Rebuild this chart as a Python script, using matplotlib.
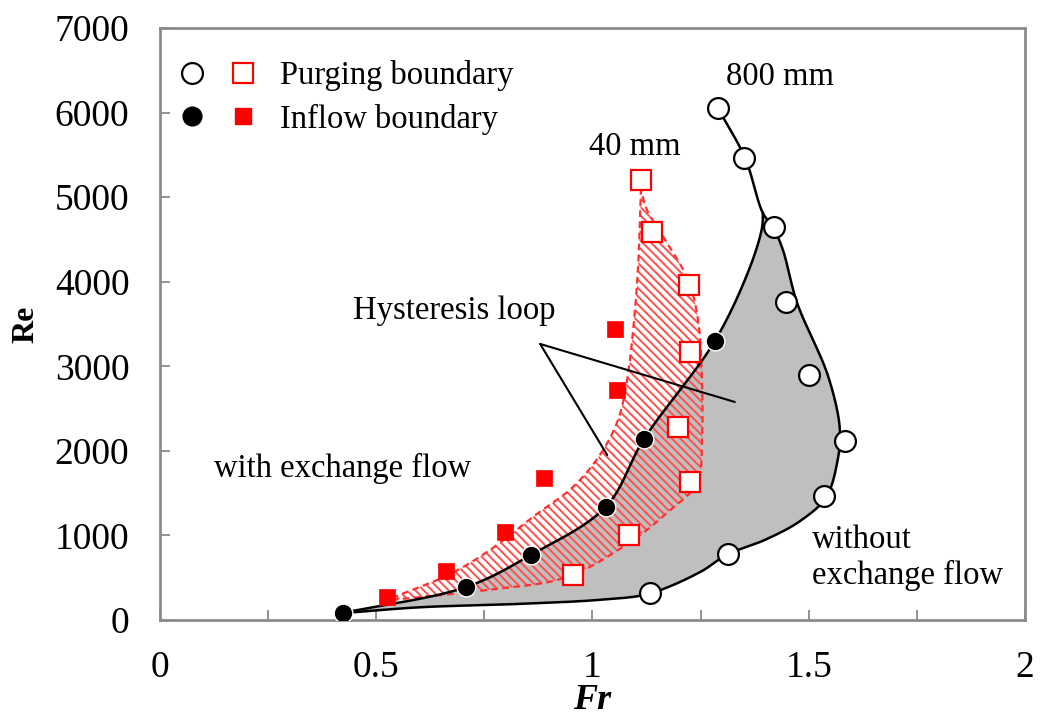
'''
Re-Fr map of the purging / inflow boundaries for two tube lengths.
'''

import numpy as np
import matplotlib.pyplot as plt
from matplotlib.lines import Line2D
from matplotlib.legend_handler import HandlerTuple

# measured points, 800 mm tube
purge800_fr = [1.29, 1.35, 1.42, 1.447, 1.50, 1.584, 1.535, 1.313, 1.133]
purge800_re = [6055, 5465, 4650, 3760, 2900, 2120, 1470, 780, 320]
inflow800_fr = [0.423, 0.708, 0.858, 1.031, 1.119, 1.283]
inflow800_re = [85, 390, 770, 1340, 2140, 3300]

# measured points, 40 mm tube
purge40_fr = [1.112, 1.138, 1.223, 1.225, 1.198, 1.225, 1.084, 0.955]
purge40_re = [5205, 4590, 3960, 3170, 2280, 1630, 1005, 530]
inflow40_fr = [0.525, 0.661, 0.798, 0.888, 1.057, 1.052]
inflow40_re = [275, 580, 1040, 1680, 2720, 3440]

# hand drawn boundary curves (knots)
bnd800_purge_fr = [0.42, 0.60, 0.83, 1.02, 1.13, 1.25, 1.31, 1.40, 1.48, 1.54,
                   1.566, 1.572, 1.545, 1.473, 1.44, 1.417, 1.394,
                   1.353, 1.29]
bnd800_purge_re = [80, 150, 190, 240, 310, 570, 770, 950, 1170, 1450,
                   1870, 2250, 2880, 3750, 4380, 4650, 4810,
                   5460, 6050]
merge800 = 16  # index where the inflow curve joins the purging curve
bnd800_inflow_fr = [0.42, 0.708, 0.858, 1.031, 1.119, 1.283, 1.364, 1.392, 1.394]
bnd800_inflow_re = [80, 390, 770, 1340, 2140, 3300, 4170, 4640, 4810]

bnd40_left_fr = [0.536, 0.671, 0.763, 0.862, 0.955, 1.017, 1.059, 1.080, 1.094,
                 1.105, 1.112]
bnd40_left_re = [260, 544, 828, 1218, 1573, 1951, 2365, 2838, 3429, 4139, 5085]
bnd40_right_fr = [0.536, 0.756, 0.941, 1.094, 1.172, 1.242, 1.253, 1.253, 1.244,
                  1.221, 1.168, 1.126, 1.112]
bnd40_right_re = [237, 355, 508, 946, 1265, 1620, 2129, 2838, 3548, 4021,
                  4494, 4848, 5085]

xticks = [0, 0.5, 1, 1.5, 2]
xtick_labels = ['0', '0.5', '1', '1.5', '2']
yticks = [0, 1000, 2000, 3000, 4000, 5000, 6000, 7000]

# rough pixel scale of the axes, used only to make the smoothing isotropic
SX, SY = 432.5, 0.08457


def catmull_rom(xs, ys, steps=20):
    '''Smooth line through the knots (centripetal Catmull-Rom).'''
    p = np.column_stack([np.asarray(xs) * SX, np.asarray(ys) * SY]).astype(float)
    p = np.vstack([2*p[0] - p[1], p, 2*p[-1] - p[-2]])
    out = []
    for i in range(1, len(p) - 2):
        p0, p1, p2, p3 = p[i-1], p[i], p[i+1], p[i+2]
        t0 = 0.0
        t1 = t0 + np.linalg.norm(p1 - p0) ** 0.5
        t2 = t1 + np.linalg.norm(p2 - p1) ** 0.5
        t3 = t2 + np.linalg.norm(p3 - p2) ** 0.5
        t = np.linspace(t1, t2, steps, endpoint=False)[:, None]
        a1 = (t1 - t)/(t1 - t0)*p0 + (t - t0)/(t1 - t0)*p1
        a2 = (t2 - t)/(t2 - t1)*p1 + (t - t1)/(t2 - t1)*p2
        a3 = (t3 - t)/(t3 - t2)*p2 + (t - t2)/(t3 - t2)*p3
        b1 = (t2 - t)/(t2 - t0)*a1 + (t - t0)/(t2 - t0)*a2
        b2 = (t3 - t)/(t3 - t1)*a2 + (t - t1)/(t3 - t1)*a3
        out.append((t2 - t)/(t2 - t1)*b1 + (t - t1)/(t2 - t1)*b2)
    out.append(p[-2][None])
    res = np.vstack(out)
    return res[:, 0] / SX, res[:, 1] / SY


plt.rcParams['font.family'] = ['Liberation Serif', 'DejaVu Serif']
plt.rcParams['hatch.linewidth'] = 1.4

fig = plt.figure(figsize=(10.4, 7.22), dpi=100)
ax = fig.add_axes([0.1538, 0.1413, 0.8318, 0.8199])

# 800 mm region
px, py = catmull_rom(bnd800_purge_fr, bnd800_purge_re)
ix, iy = catmull_rom(bnd800_inflow_fr, bnd800_inflow_re)
lx, ly = catmull_rom(bnd800_purge_fr[:merge800+1], bnd800_purge_re[:merge800+1])
ax.fill(np.concatenate([ix, lx[::-1]]), np.concatenate([iy, ly[::-1]]),
        color='#bfbfbf', lw=0, zorder=1)

# 40 mm region
ax_l, ay_l = catmull_rom(bnd40_left_fr, bnd40_left_re)
ax_r, ay_r = catmull_rom(bnd40_right_fr, bnd40_right_re)
ax.fill(np.concatenate([ax_l, ax_r[::-1]]), np.concatenate([ay_l, ay_r[::-1]]),
        facecolor='none', edgecolor='#ff5050', hatch='\\' * 4, lw=0, zorder=2)
ax.plot(ax_l, ay_l, color='#ff3030', lw=1.6, ls=(0, (3, 2)), zorder=3)
ax.plot(ax_r, ay_r, color='#ff3030', lw=1.6, ls=(0, (3, 2)), zorder=3)

ax.plot(px, py, color='k', lw=1.8, zorder=3)
ax.plot(ix, iy, color='k', lw=1.8, zorder=3)

# markers
ax.plot(purge800_fr, purge800_re, 'o', ms=15, mfc='white', mec='k', mew=1.6, zorder=5)
ax.plot(inflow800_fr, inflow800_re, 'o', ms=13.5, mfc='k', mec='white', mew=1.0, zorder=5)
ax.plot(purge40_fr, purge40_re, 's', ms=14, mfc='white', mec='#ff0000', mew=1.6, zorder=5)
ax.plot(inflow40_fr, inflow40_re, 's', ms=11, mfc='#ff0000', mec='#ff0000', mew=0.5, zorder=5)

# annotations
fs = 23.5
ax.text(0.68, 3654, 'Hysteresis loop', fontsize=fs, ha='center', va='center')
for end in [(1.329, 2578), (1.034, 1951)]:
    ax.annotate('', xy=end, xytext=(0.879, 3264),
                arrowprops=dict(arrowstyle='-', color='k', lw=1.5, shrinkA=0, shrinkB=0),
                zorder=4)
ax.text(1.098, 5593, '40 mm', fontsize=fs, ha='center', va='center')
ax.text(1.434, 6421, '800 mm', fontsize=fs, ha='center', va='center')
ax.text(0.423, 1786, 'with exchange flow', fontsize=fs, ha='center', va='center')
ax.text(1.508, 733, 'without\nexchange flow', fontsize=fs, ha='left', va='center',
        linespacing=1.2)

# legend
h_oc = Line2D([], [], ls='', marker='o', ms=15, mfc='white', mec='k', mew=1.6)
h_os = Line2D([], [], ls='', marker='s', ms=14, mfc='white', mec='#ff0000', mew=1.6)
h_fc = Line2D([], [], ls='', marker='o', ms=13.5, mfc='k', mec='k')
h_fs = Line2D([], [], ls='', marker='s', ms=11, mfc='#ff0000', mec='#ff0000')
ax.legend([(h_oc, h_os), (h_fc, h_fs)], ['Purging boundary', 'Inflow boundary'],
          handler_map={tuple: HandlerTuple(ndivide=None, pad=0.9)},
          loc='upper left', bbox_to_anchor=(-0.005, 0.99), frameon=False,
          fontsize=fs, handlelength=2.2, handletextpad=0.8, labelspacing=0.38,
          borderaxespad=0.4)

ax.set_xlim(0, 2)
ax.set_ylim(0, 7000)
ax.set_xticks(xticks)
ax.set_xticklabels(xtick_labels)
ax.set_xticks(np.arange(0.25, 2, 0.5), minor=True)
ax.set_yticks(yticks)
ax.tick_params(which='both', direction='in', length=7, width=1.2, color='#808080',
               labelsize=27, pad=22, top=False, right=False)
for s in ax.spines.values():
    s.set_color('#8c8c8c')
    s.set_linewidth(2)

ax.set_xlabel('Fr', fontsize=26, fontweight='bold', fontstyle='italic', labelpad=-1)
ax.set_ylabel('Re', fontsize=23, fontweight='bold', labelpad=10)

fig.savefig('out.png', dpi=100)
